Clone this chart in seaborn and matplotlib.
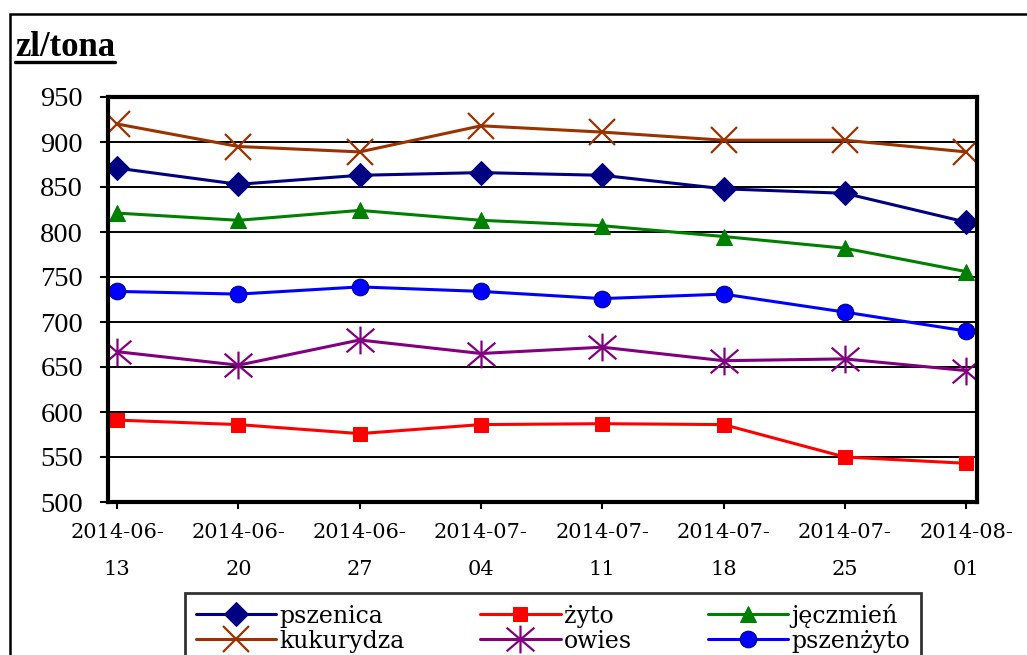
import matplotlib
matplotlib.use("Agg")
import matplotlib.pyplot as plt
from matplotlib.lines import Line2D
from matplotlib.patches import Rectangle
from matplotlib.path import Path
import seaborn as sns

# ------------------------------------------------------------------
# Ceny zbóż (zl/tona), notowania tygodniowe
# ------------------------------------------------------------------
dates = ["2014-06-\n13", "2014-06-\n20", "2014-06-\n27", "2014-07-\n04",
         "2014-07-\n11", "2014-07-\n18", "2014-07-\n25", "2014-08-\n01"]

pszenica = [871, 853, 863, 866, 863, 848, 843, 811]
zyto = [591, 586, 576, 586, 587, 586, 550, 543]
jeczmien = [821, 813, 824, 813, 807, 795, 782, 756]
kukurydza = [920, 895, 889, 918, 911, 902, 902, 889]
owies = [667, 652, 680, 665, 672, 657, 659, 646]
pszenzyto = [734, 731, 739, 734, 726, 731, 711, 690]

y_ticks = [500, 550, 600, 650, 700, 750, 800, 850, 900, 950]

# Excel-style star: an "x" with a vertical stroke through it
star = Path([(0, -1), (0, 1), (-1, -0.85), (1, 0.85), (-1, 0.85), (1, -0.85)],
            [Path.MOVETO, Path.LINETO] * 3)

series = [
    ("pszenica", pszenica, dict(color="#000080", marker="D", markersize=12)),
    ("żyto", zyto, dict(color="#FF0000", marker="s", markersize=10)),
    ("jęczmień", jeczmien, dict(color="#008000", marker="^", markersize=11)),
    ("kukurydza", kukurydza, dict(color="#993300", marker="x", markersize=19, markeredgewidth=1.6)),
    ("owies", owies, dict(color="#800080", marker=star, markersize=20, markeredgewidth=1.6)),
    ("pszenżyto", pszenzyto, dict(color="#0000FF", marker="o", markersize=12)),
]
edge_colors = {"pszenżyto": "#000080"}

sns.set_theme(style="white")
plt.rcParams["font.family"] = ["Liberation Serif", "DejaVu Serif"]
plt.rcParams["text.color"] = "black"
plt.rcParams["xtick.color"] = "black"
plt.rcParams["ytick.color"] = "black"

fig = plt.figure(figsize=(10.27, 6.55), dpi=100)
ax = fig.add_axes([108 / 1027, 1 - 502 / 655, (977 - 108) / 1027, (502 - 97) / 655])

x = list(range(len(dates)))
handles = {}
for name, vals, style in series:
    sns.lineplot(x=x, y=vals, ax=ax, linewidth=2.2, label=name,
                 markeredgecolor=edge_colors.get(name, style["color"]), **style)
    handles[name] = ax.get_lines()[-1]

ax.set_xlim(-0.075, 7.09)
ax.set_ylim(500, 950)
ax.set_yticks(y_ticks)
ax.set_xticks(x)
ax.set_xticklabels(dates, family="DejaVu Serif", fontsize=15, linespacing=2.2)
ax.tick_params(axis="y", labelsize=20.5, length=6, width=1.5, pad=12, left=True)
ax.tick_params(axis="x", length=5, width=1.5, pad=10, bottom=True)
ax.grid(axis="y", color="black", linewidth=1.4)
ax.set_axisbelow(True)
for sp in ax.spines.values():
    sp.set_color("black")
    sp.set_linewidth(3)
ax.set_xlabel("")
ax.set_ylabel("")

# legend: rows pszenica/żyto/jęczmień, kukurydza/owies/pszenżyto
ax.get_legend().remove()
order = ["pszenica", "kukurydza", "żyto", "owies", "jęczmień", "pszenżyto"]
leg = fig.legend([handles[n] for n in order], order, ncol=3,
                 loc="upper left", bbox_to_anchor=(185 / 1027, 1 - 593 / 655),
                 prop={"family": "DejaVu Serif", "size": 17},
                 frameon=True, fancybox=False, shadow=False,
                 handlelength=3.4, handletextpad=0.15, columnspacing=3.2,
                 labelspacing=0.08, borderpad=0.45, borderaxespad=0)
leg.get_frame().set_edgecolor("black")
leg.get_frame().set_linewidth(2)

# title with underline
title = fig.text(15 / 1027, 1 - 56 / 655, "zl/tona", fontsize=25, fontweight="bold",
                 family="Liberation Serif", ha="left", va="baseline")
fig.canvas.draw()
bb = title.get_window_extent(fig.canvas.get_renderer())
fig.add_artist(Line2D([bb.x0 / 1027, bb.x1 / 1027], [1 - 62 / 655, 1 - 62 / 655],
                      color="black", linewidth=2.4, transform=fig.transFigure))

# outer chart frame
fig.add_artist(Rectangle((10 / 1027, -0.1), 1.1, 1 - 14 / 655 + 0.1, fill=False,
                         edgecolor="black", linewidth=1.8, transform=fig.transFigure))

fig.savefig("out.png", dpi=100)
